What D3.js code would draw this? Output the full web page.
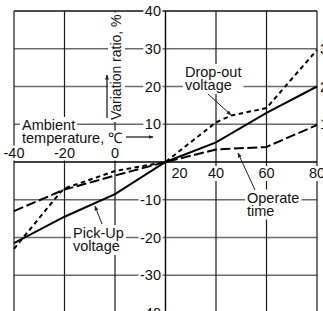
<!DOCTYPE html>
<html>
<head>
<meta charset="utf-8">
<script src="https://cdn.jsdelivr.net/npm/d3@7"></script>
<style>
  html, body { margin: 0; padding: 0; background: #fff; overflow: hidden; }
  svg { display: block; font-family: "Liberation Sans", Arial, sans-serif; }
</style>
</head>
<body>
<div id="chart"></div>
<script>
// tick values
var tempTicks = [-40, -20, 0, 20, 40, 60, 80];
var ratioTicks = [40, 30, 20, 10, -10, -20, -30, -40];
var rightTicks = [30, 20, 10];

// Pick-Up voltage (solid)
var pickUpTemp = [-40, -20, 0, 20, 40, 60, 80];
var pickUpVal = [-21.5, -14.5, -8.5, 0, 5.2, 13, 20];

// Drop-out voltage (short dashes)
var dropOutTemp = [-40, -22, -20, 0, 20, 40, 46, 60, 80];
var dropOutVal = [-23, -8.3, -7, -2.4, 0, 10.5, 12.3, 14.3, 29.7];

// Operate time (long dashes)
var operateTemp = [-40, -20, 0, 20, 40, 60, 80];
var operateVal = [-13, -7.3, -3.6, 0, 3.3, 4, 9.8];

var W = 323, H = 311;

var svg = d3.select('#chart').append('svg')
    .attr('width', W)
    .attr('height', H);

var x = d3.scaleLinear().domain([-40, 80]).range([14, 317]);
var y = d3.scaleLinear().domain([-40, 40]).range([313, 11]);

var defs = svg.append('defs');
defs.append('marker')
    .attr('id', 'head')
    .attr('viewBox', '0 0 10 10')
    .attr('refX', 9).attr('refY', 5)
    .attr('markerWidth', 5).attr('markerHeight', 5)
    .attr('markerUnits', 'userSpaceOnUse')
    .attr('orient', 'auto')
    .append('path')
    .attr('d', 'M0,1 L10,5 L0,9 Z')
    .style('fill', '#222');

var grid = svg.append('g');

// horizontal grid lines
grid.selectAll('.hgrid')
    .data(ratioTicks)
    .enter().append('line')
    .attr('x1', x(-40)).attr('x2', x(80))
    .attr('y1', function(d) { return y(d); })
    .attr('y2', function(d) { return y(d); })
    .style('stroke', function(d) { return d == 40 ? '#111' : '#6b6b6b'; })
    .style('stroke-width', 1.4);

// vertical grid lines
grid.selectAll('.vgrid')
    .data(tempTicks.filter(function(d) { return d != 20; }))
    .enter().append('line')
    .attr('x1', function(d) { return x(d); })
    .attr('x2', function(d) { return x(d); })
    .attr('y1', y(40)).attr('y2', H)
    .style('stroke', '#1a1a1a')
    .style('stroke-width', 1.2);

// the two axes
grid.append('line')
    .attr('x1', x(-40)).attr('x2', x(80))
    .attr('y1', y(0)).attr('y2', y(0))
    .style('stroke', '#000').style('stroke-width', 1.6);
grid.append('line')
    .attr('x1', x(20)).attr('x2', x(20))
    .attr('y1', y(40)).attr('y2', H)
    .style('stroke', '#000').style('stroke-width', 1.4);

// text with a white box behind it
function boxed(parent, lines, px, py, lineH, anchor, pad, size) {
    var grp = parent.append('g');
    var txt = grp.selectAll('text')
        .data(lines)
        .enter().append('text')
        .attr('x', px)
        .attr('y', function(d, i) { return py + i * lineH; })
        .attr('text-anchor', anchor)
        .style('font-size', size + 'px')
        .style('fill', '#111')
        .text(function(d) { return d; });
    var x0 = 1e9, y0 = 1e9, x1 = -1e9, y1 = -1e9;
    txt.each(function() {
        var b = this.getBBox();
        x0 = Math.min(x0, b.x); y0 = Math.min(y0, b.y);
        x1 = Math.max(x1, b.x + b.width); y1 = Math.max(y1, b.y + b.height);
    });
    grp.insert('rect', 'text')
        .attr('x', x0 - pad).attr('y', y0 - pad + 2)
        .attr('width', x1 - x0 + 2 * pad).attr('height', y1 - y0 + 2 * pad - 3)
        .style('fill', '#fff');
    return grp;
}

var labels = svg.append('g');

// y tick labels
ratioTicks.forEach(function(d) {
    boxed(labels, [d], 161, y(d) + 5, 0, 'end', 1.5, 14.5);
});
rightTicks.forEach(function(d) {
    labels.append('text')
        .attr('x', 320).attr('y', y(d) + 5)
        .style('font-size', '14.5px')
        .text(d);
});

// x tick labels
tempTicks.forEach(function(d) {
    if (d < 20) {
        boxed(labels, [d], x(d), 157.5, 0, 'middle', 1, 14.5);
    } else {
        var xx = d == 20 ? x(d) + 14 : x(d);
        boxed(labels, [d], xx, 178, 0, 'middle', 1, 14.5);
    }
});

// annotations
boxed(labels, ['Drop-out', 'voltage'], 185, 77, 13, 'start', 2, 14.5);
boxed(labels, ['Pick-Up', 'voltage'], 73, 238, 13, 'start', 2, 14.5);
boxed(labels, ['Operate', 'time'], 247, 202.5, 13, 'start', 2, 14.5);
boxed(labels, ['Ambient'], 22, 130, 0, 'start', 2, 14.5);
boxed(labels, ['temperature, \u2103'], 22, 142.5, 0, 'start', 1, 14.5);

var vt = labels.append('g').attr('transform', 'translate(121,120) rotate(-90)');
boxed(vt, ['Variation ratio, %'], 0, 0, 0, 'start', 2, 14);

// data lines
var line = d3.line()
    .x(function(d) { return x(d[0]); })
    .y(function(d) { return y(d[1]); });

var series = [
    { t: pickUpTemp, v: pickUpVal, dash: null },
    { t: dropOutTemp, v: dropOutVal, dash: '4.5,3.5' },
    { t: operateTemp, v: operateVal, dash: '10,3.5' }
];

series.forEach(function(s) {
    svg.append('path')
        .datum(d3.zip(s.t, s.v))
        .attr('d', line)
        .style('fill', 'none')
        .style('stroke', '#000')
        .style('stroke-width', 2)
        .style('stroke-dasharray', s.dash);
});

// pointer arrows
var arrows = [
    [208, 94, 231, 115],
    [102, 224, 95, 206],
    [255, 190, 238, 153],
    [107, 118, 107, 75],
    [126, 137, 153, 137]
];
svg.selectAll('.arrow')
    .data(arrows)
    .enter().append('line')
    .attr('x1', function(d) { return d[0]; })
    .attr('y1', function(d) { return d[1]; })
    .attr('x2', function(d) { return d[2]; })
    .attr('y2', function(d) { return d[3]; })
    .style('stroke', '#222')
    .style('stroke-width', function(d, i) { return i > 2 ? 1.3 : 1; })
    .attr('marker-end', 'url(#head)');
</script>
</body>
</html>
